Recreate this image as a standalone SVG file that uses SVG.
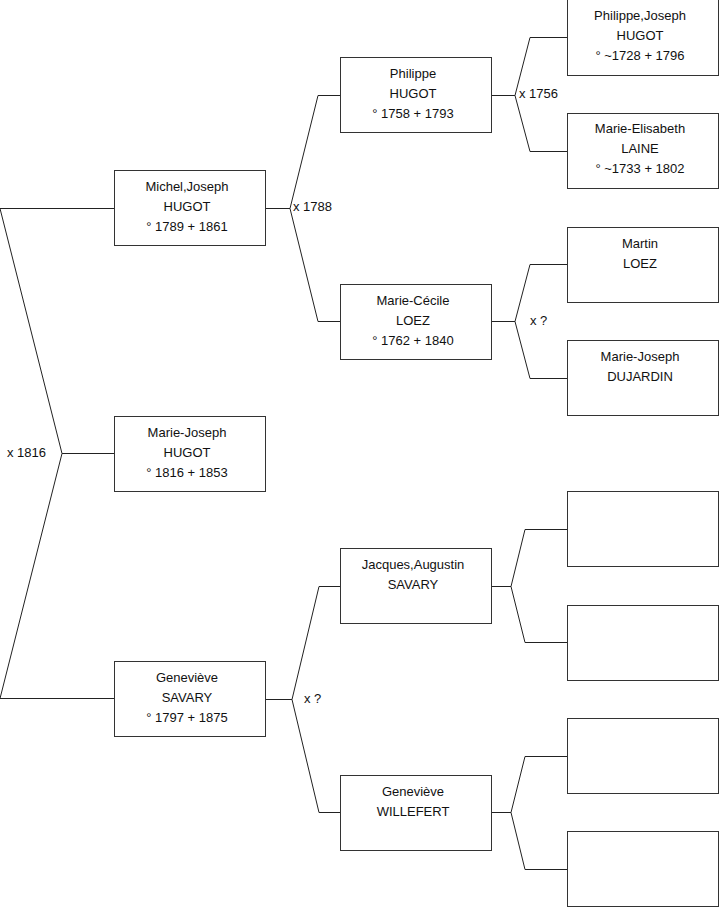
<svg xmlns="http://www.w3.org/2000/svg" width="719" height="908" viewBox="0 0 719 908">
<style>
.box{fill:#fff;stroke:#333;stroke-width:1}
.n text{font-family:"Liberation Sans",Arial,sans-serif;font-size:13px;fill:#111;text-anchor:middle}
.lbl{font-family:"Liberation Sans",Arial,sans-serif;font-size:13px;fill:#111}
.c polyline{fill:none;stroke:#222;stroke-width:1}
</style>
<rect width="719" height="908" fill="#fff"/>
<g id="connectors" class="c">
<polyline points="114,208.5 0,208.5 62,453.5 0,698.5 114,698.5"/>
<polyline points="62,453.5 114,453.5"/>
<polyline points="265,208.5 290,208.5"/>
<polyline points="340,95.5 318,95.5 290,208.5 318,321.5 340,321.5"/>
<polyline points="265,699.5 292,699.5"/>
<polyline points="340,586.5 319,586.5 292,699.5 319,812.5 340,812.5"/>
<polyline points="491,95.5 515,95.5"/>
<polyline points="567,37.5 530,37.5 515,95.5 530,151.5 567,151.5"/>
<polyline points="491,321.5 515,321.5"/>
<polyline points="567,264.5 530,264.5 515,321.5 530,378.5 567,378.5"/>
<polyline points="491,586.5 511,586.5"/>
<polyline points="567,529.5 525,529.5 511,586.5 525,642.5 567,642.5"/>
<polyline points="491,812.5 511,812.5"/>
<polyline points="567,756.5 525,756.5 511,812.5 525,869.5 567,869.5"/>
</g>
<g id="labels" class="lbl">
<text x="7" y="456.5">x 1816</text>
<text x="293" y="210.5">x 1788</text>
<text x="519" y="97.5">x 1756</text>
<text x="530" y="325">x ?</text>
<text x="304" y="702.5">x ?</text>
</g>
<g id="michel" class="n"><rect class="box" x="114.5" y="170.5" width="151" height="75"/>
<text x="187" y="191">Michel,Joseph</text><text x="187" y="211">HUGOT</text><text x="187" y="231">° 1789 + 1861</text></g>
<g id="mariejoseph" class="n"><rect class="box" x="114.5" y="416.5" width="151" height="75"/>
<text x="187" y="437">Marie-Joseph</text><text x="187" y="457">HUGOT</text><text x="187" y="477">° 1816 + 1853</text></g>
<g id="genevieve" class="n"><rect class="box" x="114.5" y="661.5" width="151" height="75"/>
<text x="187" y="682">Geneviève</text><text x="187" y="702">SAVARY</text><text x="187" y="722">° 1797 + 1875</text></g>
<g id="philippe" class="n"><rect class="box" x="340.5" y="57.5" width="151" height="75"/>
<text x="413" y="78">Philippe</text><text x="413" y="98">HUGOT</text><text x="413" y="118">° 1758 + 1793</text></g>
<g id="mariececile" class="n"><rect class="box" x="340.5" y="284.5" width="151" height="75"/>
<text x="413" y="305">Marie-Cécile</text><text x="413" y="325">LOEZ</text><text x="413" y="345">° 1762 + 1840</text></g>
<g id="jacques" class="n"><rect class="box" x="340.5" y="548.5" width="151" height="75"/>
<text x="413" y="569">Jacques,Augustin</text><text x="413" y="589">SAVARY</text></g>
<g id="genevievew" class="n"><rect class="box" x="340.5" y="775.5" width="151" height="75"/>
<text x="413" y="796">Geneviève</text><text x="413" y="816">WILLEFERT</text></g>
<g id="philippejoseph" class="n"><rect class="box" x="567.5" y="-0.5" width="151" height="76"/>
<text x="640" y="20">Philippe,Joseph</text><text x="640" y="40">HUGOT</text><text x="640" y="60">° ~1728 + 1796</text></g>
<g id="marieelisabeth" class="n"><rect class="box" x="567.5" y="113.5" width="151" height="75"/>
<text x="640" y="133">Marie-Elisabeth</text><text x="640" y="153">LAINE</text><text x="640" y="173">° ~1733 + 1802</text></g>
<g id="martin" class="n"><rect class="box" x="567.5" y="227.5" width="151" height="75"/>
<text x="640" y="248">Martin</text><text x="640" y="268">LOEZ</text></g>
<g id="mariejosephd" class="n"><rect class="box" x="567.5" y="340.5" width="151" height="75"/>
<text x="640" y="361">Marie-Joseph</text><text x="640" y="381">DUJARDIN</text></g>
<g id="empty1" class="n"><rect class="box" x="567.5" y="491.5" width="151" height="75"/></g>
<g id="empty2" class="n"><rect class="box" x="567.5" y="605.5" width="151" height="75"/></g>
<g id="empty3" class="n"><rect class="box" x="567.5" y="718.5" width="151" height="75"/></g>
<g id="empty4" class="n"><rect class="box" x="567.5" y="831.5" width="151" height="75"/></g>
</svg>
